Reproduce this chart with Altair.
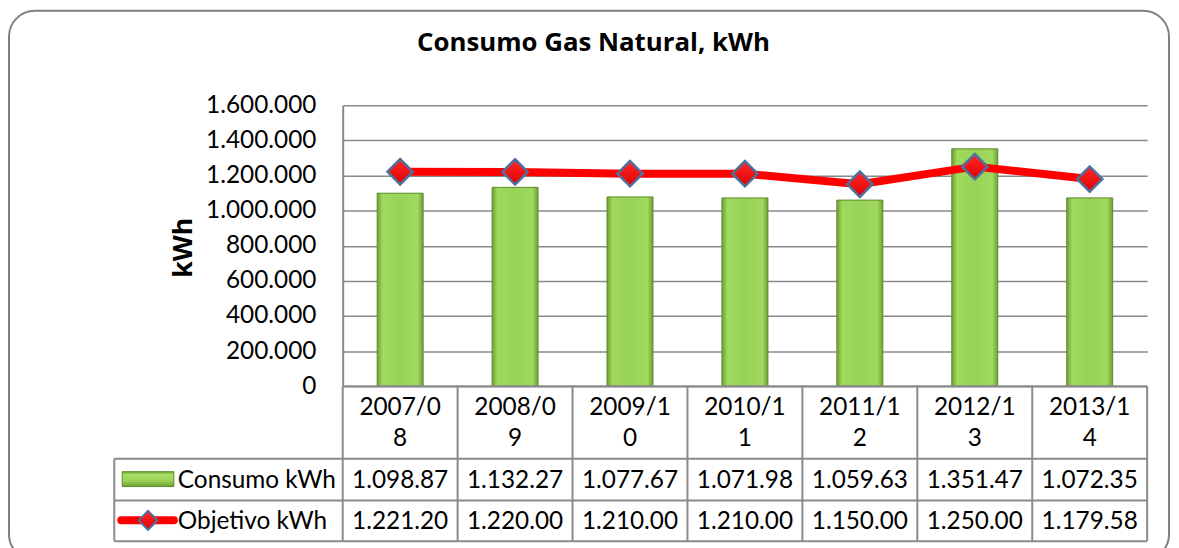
import altair as alt
import pandas as pd

# ---- data ----
categories = ["2007/08", "2008/09", "2009/10", "2010/11", "2011/12", "2012/13", "2013/14"]
consumo = [1098870, 1132270, 1077670, 1071980, 1059630, 1351470, 1072350]
objetivo = [1221200, 1220000, 1210000, 1210000, 1150000, 1250000, 1179580]
series_names = ["Consumo kWh", "Objetivo kWh"]
y_ticks = [0, 200000, 400000, 600000, 800000, 1000000, 1200000, 1400000, 1600000]
chart_title = "Consumo Gas Natural, kWh"
y_title = "kWh"

df = pd.DataFrame({"periodo": categories, "consumo": consumo, "objetivo": objetivo})
one = pd.DataFrame({"k": [0]})

FONT = "Lato"
TFONT = "Open Sans"
FS = 24.5
GRID = "#8a8a8a"
W, H = 810, 283
# table geometry (pixels, relative to plot area)
T_TOP, T_HDR, T_R1, T_BOT, T_LEFT = 283, 356, 398, 439, -230

xs = alt.Scale(paddingInner=0, paddingOuter=0)


def X(**kw):
    return alt.X("periodo:N", sort=categories, scale=xs, axis=None, **kw)


ys = alt.Scale(domain=[0, 1600000], nice=False, zero=True)
fmt_expr = "replace(format(datum.value, ','), regexp(',', 'g'), '.')"

bar_grad = alt.LinearGradient(
    gradient="linear", x1=0, x2=1, y1=0, y2=0,
    stops=[alt.GradientStop(color="#6f9f35", offset=0),
           alt.GradientStop(color="#9fd95d", offset=0.12),
           alt.GradientStop(color="#98d257", offset=0.5),
           alt.GradientStop(color="#9fd95d", offset=0.88),
           alt.GradientStop(color="#6f9f35", offset=1)])
leg_grad = alt.LinearGradient(
    gradient="linear", x1=0, x2=0, y1=0, y2=1,
    stops=[alt.GradientStop(color="#6f9f35", offset=0),
           alt.GradientStop(color="#a8e066", offset=0.2),
           alt.GradientStop(color="#98d257", offset=0.6),
           alt.GradientStop(color="#6f9f35", offset=1)])
dia_grad = alt.LinearGradient(
    gradient="linear", x1=0, x2=0, y1=0, y2=1,
    stops=[alt.GradientStop(color="#ff2a2a", offset=0),
           alt.GradientStop(color="#e00000", offset=1)])

frame = alt.Chart(one).mark_rect(
    fill="transparent", stroke="#7f7f7f", strokeWidth=2, cornerRadius=26
).encode(x=alt.value(-336), x2=alt.value(W + 22), y=alt.value(-95), y2=alt.value(H + 175))

title = alt.Chart(pd.DataFrame({"t": [chart_title]})).mark_text(
    font=TFONT, fontSize=26, fontWeight="bold", baseline="alphabetic", align="center", color="black"
).encode(text="t:N", x=alt.value(252.5), y=alt.value(-55))

bars = alt.Chart(df).mark_bar(
    width=alt.RelativeBandSize(0.4), color=bar_grad, stroke="#5d8a2c", strokeWidth=1
).encode(
    x=X(),
    y=alt.Y("consumo:Q", scale=ys, axis=alt.Axis(
        values=y_ticks, labelExpr=fmt_expr, title=y_title, grid=True,
        gridColor=GRID, gridWidth=1.6, domainColor=GRID, domainWidth=2,
        ticks=False, labelPadding=27, labelFont=FONT, labelFontSize=FS, labelColor="black",
        titleFont=TFONT, titleFontSize=27, titleFontWeight="bold", titleColor="black",
        titleAngle=270, titleX=-160, titleY=143, titleAlign="center", titleBaseline="middle")),
)

line = alt.Chart(df).mark_line(color="#ff0000", strokeWidth=8).encode(
    x=X(), y=alt.Y("objetivo:Q", scale=ys, axis=None))

points = alt.Chart(df).mark_point(
    shape="diamond", filled=True, fill=dia_grad, stroke="#4f6f9c", strokeWidth=2.5, size=650, opacity=1
).encode(x=X(), y=alt.Y("objetivo:Q", scale=ys, axis=None))

# ---- data table grid ----
rule_style = dict(color=GRID, strokeWidth=2)
vrules = alt.Chart(df).mark_rule(**rule_style).encode(
    x=X(bandPosition=0), y=alt.value(T_TOP), y2=alt.value(T_BOT))
hlines = [
    alt.Chart(one).mark_rule(**rule_style).encode(x=alt.value(0), x2=alt.value(W), y=alt.value(T_TOP)),
    alt.Chart(one).mark_rule(**rule_style).encode(x=alt.value(T_LEFT), x2=alt.value(W), y=alt.value(T_HDR)),
    alt.Chart(one).mark_rule(**rule_style).encode(x=alt.value(T_LEFT), x2=alt.value(W), y=alt.value(T_R1)),
    alt.Chart(one).mark_rule(**rule_style).encode(x=alt.value(T_LEFT), x2=alt.value(W), y=alt.value(T_BOT)),
    alt.Chart(one).mark_rule(**rule_style).encode(x=alt.value(W), y=alt.value(T_TOP), y2=alt.value(T_BOT)),
    alt.Chart(one).mark_rule(**rule_style).encode(x=alt.value(T_LEFT), y=alt.value(T_HDR), y2=alt.value(T_BOT)),
]

txt = dict(font=FONT, fontSize=FS, color="black", baseline="middle", align="center")
hdr1 = alt.Chart(df).transform_calculate(l="substring(datum.periodo, 0, 6)").mark_text(**txt).encode(
    x=X(), y=alt.value(305), text="l:N")
hdr2 = alt.Chart(df).transform_calculate(l="substring(datum.periodo, 6)").mark_text(**txt).encode(
    x=X(), y=alt.value(336), text="l:N")
row_fmt = "substring(replace(format(datum.{f}, ','), regexp(',', 'g'), '.'), 0, 8)"
row1 = alt.Chart(df).transform_calculate(l=row_fmt.format(f="consumo")).mark_text(**txt).encode(
    x=X(), y=alt.value(378), text="l:N")
row2 = alt.Chart(df).transform_calculate(l=row_fmt.format(f="objetivo")).mark_text(**txt).encode(
    x=X(), y=alt.value(419.5), text="l:N")

# ---- legend keys inside the table ----
leg_bar = alt.Chart(one).mark_rect(fill=leg_grad, stroke="#5d8a2c", strokeWidth=1).encode(
    x=alt.value(-222), x2=alt.value(-170), y=alt.value(369), y2=alt.value(384))
leg_line = alt.Chart(one).mark_rule(color="#ff0000", strokeWidth=8, strokeCap="round").encode(
    x=alt.value(-223), x2=alt.value(-170), y=alt.value(418))
leg_pt = alt.Chart(one).mark_point(
    shape="diamond", filled=True, fill=dia_grad, stroke="#4f6f9c", strokeWidth=2, size=360, opacity=1
).encode(x=alt.value(-196), y=alt.value(418))
leg_txt = alt.Chart(pd.DataFrame({"s": series_names, "r": [0, 1]})).mark_text(
    font=FONT, fontSize=FS, color="black", baseline="middle", align="left"
).encode(text="s:N", x=alt.value(-166),
         y=alt.Y("r:Q", scale=alt.Scale(domain=[0, 1], range=[378, 419.5]), axis=None))

chart = alt.layer(
    frame, title, bars, line, points, vrules, *hlines, hdr1, hdr2, row1, row2,
    leg_bar, leg_line, leg_pt, leg_txt
).resolve_scale(y="independent").properties(
    width=W, height=H,
    autosize=alt.AutoSizeParams(type="none"),
    padding={"left": 337, "top": 96, "right": 24, "bottom": 161},
    background="white",
).configure_view(stroke=None)

chart.save("out.html", embed_options={"renderer": "svg", "actions": False})
